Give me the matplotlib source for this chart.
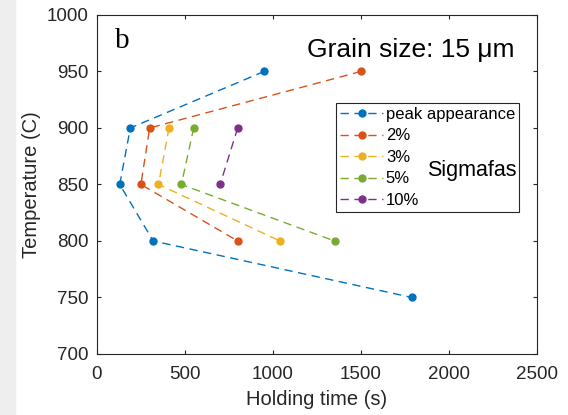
import matplotlib.pyplot as plt

# Данные (время выдержки, с / температура, °C)
peak_t = [950, 190, 130, 320, 1790]
peak_T = [950, 900, 850, 800, 750]
p2_t = [1500, 300, 250, 800]
p2_T = [950, 900, 850, 800]
p3_t = [410, 350, 1040]
p3_T = [900, 850, 800]
p5_t = [550, 480, 1350]
p5_T = [900, 850, 800]
p10_t = [800, 700]
p10_T = [900, 850]

labels = ['peak appearance', '2%', '3%', '5%', '10%']
colors = ['#0072BD', '#D95319', '#EDB120', '#77AC30', '#7E2F8E']

plt.rcParams.update({
    'font.family': 'Liberation Sans',
    'font.size': 13,
    'xtick.direction': 'in',
    'ytick.direction': 'in',
})

fig = plt.figure(figsize=(5.68, 4.15), dpi=100)
# светло-серая полоса слева, как на скриншоте
fig.patches.append(plt.Rectangle((0, 0), 0.026, 1, transform=fig.transFigure,
                                 color='#eeeeee', zorder=-1))
ax = fig.add_axes([0.1705, 0.147, 0.775, 0.817])

series = [(peak_t, peak_T), (p2_t, p2_T), (p3_t, p3_T), (p5_t, p5_T), (p10_t, p10_T)]
for (t, T), c, lab in zip(series, colors, labels):
    ax.plot(t, T, '--', color=c, lw=1.0, dashes=(6, 4), marker='o', markersize=5,
            label=lab)

ax.set_xlim(0, 2500)
ax.set_ylim(700, 1000)
ax.set_xticks(range(0, 2501, 500))
ax.set_yticks(range(700, 1001, 50))
ax.tick_params(top=True, right=True, length=3, colors='#262626', labelcolor='#262626',
               labelsize=13.5)
ax.tick_params(axis='x', pad=9)
ax.tick_params(axis='y', pad=6)
for s in ax.spines.values():
    s.set_color('#262626')
    s.set_linewidth(0.8)

ax.set_xlabel('Holding time (s)', color='#262626', fontsize=14.5, labelpad=5)
ax.set_ylabel('Temperature (C)', color='#262626', fontsize=14.5, labelpad=4)

ax.text(0.041, 0.923, 'b', transform=ax.transAxes, fontsize=21,
        family='Liberation Serif', va='center', ha='left')
ax.text(0.948, 0.897, 'Grain size: 15 μm', transform=ax.transAxes, fontsize=19,
        va='center', ha='right')

leg = ax.legend(loc='upper left', bbox_to_anchor=(0.543, 0.741), fontsize=12,
                frameon=True, fancybox=False, edgecolor='#262626', framealpha=1,
                handlelength=2.6, handletextpad=0.15, borderpad=0.25,
                labelspacing=0.39, borderaxespad=0)
leg.get_frame().set_linewidth(0.8)
t = ax.text(0.852, 0.542, 'Sigmafas', transform=ax.transAxes, fontsize=15.5,
            va='center', ha='center')
t.set_zorder(10)

fig.savefig('out.png', dpi=100)
